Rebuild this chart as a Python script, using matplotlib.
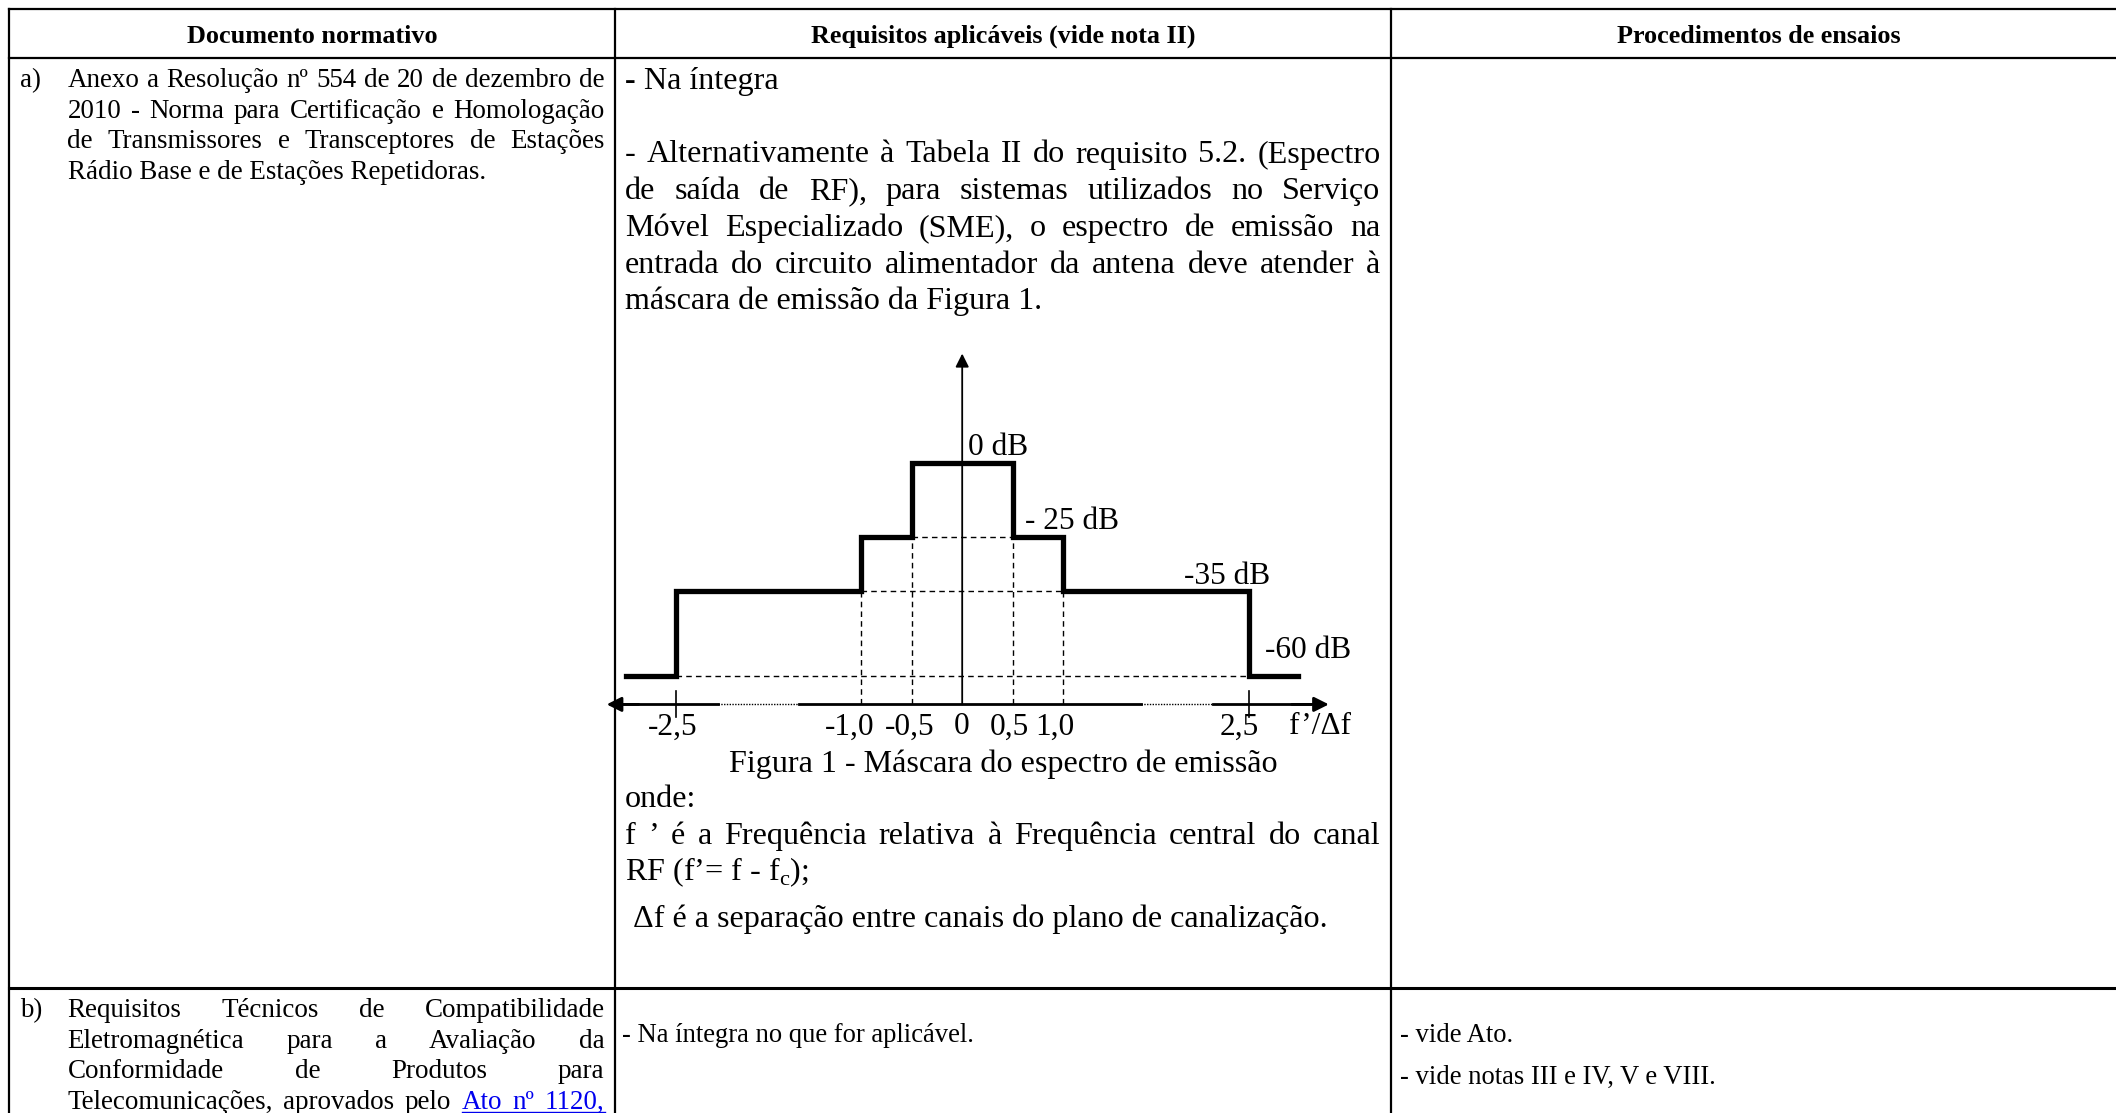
import numpy as np
import matplotlib
matplotlib.use("Agg")
import matplotlib.pyplot as plt

SERIF = ["Liberation Serif", "DejaVu Serif"]
plt.rcParams["font.family"] = SERIF
plt.rcParams["mathtext.fontset"] = "custom"
plt.rcParams["mathtext.rm"] = "Liberation Serif"

W, H = 2116, 1113

# ---- table content ----
headers = ["Documento normativo", "Requisitos aplicáveis (vide nota II)", "Procedimentos de ensaios"]
doc_a = ["Anexo a Resolução nº 554 de 20 de dezembro de",
         "2010 - Norma para Certificação e Homologação",
         "de Transmissores e Transceptores de Estações",
         "Rádio Base e de Estações Repetidoras."]
req_a_first = "Na íntegra"
req_a = ["- Alternativamente à Tabela II do requisito 5.2. (Espectro",
         "de saída de RF), para sistemas utilizados no Serviço",
         "Móvel Especializado (SME), o espectro de emissão na",
         "entrada do circuito alimentador da antena deve atender à",
         "máscara de emissão da Figura 1."]
caption = "Figura 1 - Máscara do espectro de emissão"
where_lines = ["onde:",
               "f ’ é a Frequência relativa à Frequência central do canal",
               r"RF (f’= f - f$_\mathregular{c}$);",
               "Δf é a separação entre canais do plano de canalização."]
doc_b = ["Requisitos Técnicos de Compatibilidade",
         "Eletromagnética para a Avaliação da",
         "Conformidade de Produtos para",
         "Telecomunicações, aprovados pelo Ato nº 1120,"]
req_b = "- Na íntegra no que for aplicável."
proc_b = ["- vide Ato.", "- vide notas III e IV, V e VIII."]

# ---- emission mask (Figura 1) ----
mask_f = [-2.9, -2.5, -1.0, -0.5, 0.5, 1.0, 2.5, 2.9]
mask_db = [-60, -35, -25, 0, -25, -35, -60, -60]
level_db = [0, -25, -35, -60]
level_labels = ["0 dB", "- 25 dB", "-35 dB", "-60 dB"]
tick_values = [-2.5, -1.0, -0.5, 0, 0.5, 1.0, 2.5]
tick_labels = ["-2,5", "-1,0", "-0,5", "0", "0,5", "1,0", "2,5"]
x_label = "f’/Δf"

fig = plt.figure(figsize=(W / 100, H / 100), dpi=100)
doc = fig.add_axes([0, 0, 1, 1])
doc.set_xlim(0, W)
doc.set_ylim(H, 0)
doc.axis("off")
renderer = fig.canvas.get_renderer()


def text_width(s, size, weight="normal"):
    t = doc.text(0, 0, s, fontsize=size, fontweight=weight)
    w = t.get_window_extent(renderer).width
    t.remove()
    return w


def fit(s, target, weight="normal"):
    return 10 * target / text_width(s, 10, weight)


def put_line(line, x0, y, size, x1=None, weight="normal", color="black"):
    words = line.split()
    if x1 is None or len(words) < 2:
        doc.text(x0, y, line, fontsize=size, fontweight=weight, color=color,
                 ha="left", va="baseline")
        return []
    widths = [text_width(w, size, weight) for w in words]
    gap = (x1 - x0 - sum(widths)) / (len(words) - 1)
    out = []
    x = x0
    for w, wd in zip(words, widths):
        t = doc.text(x, y, w, fontsize=size, fontweight=weight, color=color,
                     ha="left", va="baseline")
        out.append((t, x, wd))
        x += wd + gap
    return out


# font sizes, calibrated on widths in the reference
fs_head = fit("Documento normativo", 250, "bold")
fs_col1 = fit("Rádio Base e de Estações Repetidoras.", 418)
fs_big = fit("máscara de emissão da Figura 1.", 418)
fs_small = fit(req_b, 354)
fs_fig = fit("-60 dB", 86)

# ---- table grid ----
x_cols = [9, 615, 1391, 2126]
y_rows = [9, 58, 988]
for x in x_cols:
    doc.plot([x, x], [y_rows[0], H + 5], color="black", lw=1.6, solid_capstyle="projecting")
for y, lw in zip(y_rows, [1.6, 1.6, 2.2]):
    doc.plot([x_cols[0], x_cols[-1]], [y, y], color="black", lw=lw, solid_capstyle="projecting")

for h, x0, x1 in zip(headers, x_cols[:-1], x_cols[1:]):
    doc.text((x0 + x1) / 2, 43, h, fontsize=fs_head, fontweight="bold", ha="center", va="baseline")

# row a
doc.text(20, 87, "a)", fontsize=fs_col1, va="baseline")
for i, line in enumerate(doc_a):
    last = i == len(doc_a) - 1
    put_line(line, 67.5, 87 + i * 30.6, fs_col1, None if last else 604.5)

doc.text(625, 89, "-", fontsize=fs_big, fontweight="bold", va="baseline")
doc.text(625 + text_width("- ", fs_big), 89, req_a_first, fontsize=fs_big, va="baseline")
for i, line in enumerate(req_a):
    last = i == len(req_a) - 1
    put_line(line, 625, 162.5 + i * 36.7, fs_big, None if last else 1380.5)

doc.text(1003, 772, caption, fontsize=fs_big, ha="center", va="baseline")
put_line(where_lines[0], 625, 807, fs_big)
put_line(where_lines[1], 625, 844, fs_big, 1380.5)
put_line(where_lines[2], 625, 880, fs_big)
put_line(where_lines[3], 633, 927, fs_big)

# row b
doc.text(20, 1017, "b)", fontsize=fs_col1, va="baseline")
for i, line in enumerate(doc_b):
    words = put_line(line, 67.5, 1017 + i * 30.6, fs_col1, 604.5)
    if i == len(doc_b) - 1:
        link = words[3:]
        for t, _, _ in link:
            t.set_color("#0000ee")
        doc.plot([link[0][1], link[-1][1] + link[-1][2]], [1017 + i * 30.6 + 3] * 2,
                 color="#0000ee", lw=1.0)
doc.text(622, 1042, req_b, fontsize=fs_small, va="baseline")
for i, line in enumerate(proc_b):
    doc.text(1399.5, 1042 + i * 42, line, fontsize=fs_small, va="baseline")


# ---- Figura 1: schematic scales (breaks on both axes) ----
def fx(x):
    a = np.abs(x)
    return np.sign(x) * np.where(a <= 1, a, 1 + (a - 1) * 1.22)


def fx_inv(u):
    b = np.abs(u)
    return np.sign(u) * np.where(b <= 1, b, 1 + (b - 1) / 1.22)


DB_K = [-100, -60, -35, -25, 0, 60]
DB_U = [-79.8, 21, 84, 124, 179, 311]


def gy(y):
    return np.interp(y, DB_K, DB_U)


def gy_inv(u):
    return np.interp(u, DB_U, DB_K)


AXIS_DB = -68.33
px_u = 101.2
half_w = fx(3.3) * px_u
top_px = 704.4 - gy(45) * 1.3495
bot_px = 704.4 - gy(-75) * 1.3495
ax = fig.add_axes([(962.2 - half_w) / W, 1 - bot_px / H, 2 * half_w / W, (bot_px - top_px) / H])
ax.set_xscale("function", functions=(fx, fx_inv))
ax.set_yscale("function", functions=(gy, gy_inv))
ax.set_xlim(-3.3, 3.3)
ax.set_ylim(-75, 45)
ax.axis("off")

# dashed guides
dash = dict(color="black", lw=1.0, ls=(0, (4, 3)))
for i, x in enumerate(mask_f):
    if 0 < x < max(mask_f):
        lvl = mask_db[i]
        ax.plot([-x, x], [lvl, lvl], **dash)
        if lvl > min(mask_db):
            ax.plot([x, x], [AXIS_DB, lvl], **dash)
            ax.plot([-x, -x], [AXIS_DB, lvl], **dash)

ax.step(mask_f, mask_db, where="post", color="black", lw=3.8, solid_joinstyle="miter")

# axes with arrows
ax.annotate("", xy=(0, 36.8), xytext=(0, AXIS_DB),
            arrowprops=dict(arrowstyle="-|>", color="black", lw=1.3, mutation_scale=20,
                            shrinkA=0, shrinkB=0))
for a, b in [(-2.95, -2.16), (-1.50, 1.63), (2.21, 3.0)]:
    ax.plot([a, b], [AXIS_DB, AXIS_DB], color="black", lw=2.0)
for a, b in [(-2.16, -1.50), (1.63, 2.21)]:
    ax.plot([a, b], [AXIS_DB, AXIS_DB], color="black", lw=1.0, ls=(0, (1, 1)))
for a, b in [(-2.8, -3.06), (2.85, 3.15)]:
    ax.annotate("", xy=(b, AXIS_DB), xytext=(a, AXIS_DB),
                arrowprops=dict(arrowstyle="-|>", color="black", lw=2.0, mutation_scale=22,
                                shrinkA=0, shrinkB=0))
for x in (min(tick_values), max(tick_values)):
    ax.plot([x, x], [-72, -64.5], color="black", lw=1.2)

# tick labels sit slightly left of their ticks in the original
tick_dx = {-2.5: -3, -1.0: -11, -0.5: -2, 0: -1, 0.5: -3, 1.0: -9, 2.5: -9}
for v, lab in zip(tick_values, tick_labels):
    ax.annotate(lab, (v, AXIS_DB), xytext=(tick_dx[v], -30), textcoords="offset pixels",
                ha="center", va="baseline", fontsize=fs_fig)
ax.annotate(x_label, (3.08, AXIS_DB), xytext=(0, -30), textcoords="offset pixels",
            ha="center", va="baseline", fontsize=fs_fig)

label_place = {0: (0.0, "left", 6, 8), -25: (0.5, "left", 12, 8),
               -35: (2.5, "right", 22, 7), -60: (2.5, "left", 16, 18)}
for lvl, lab in zip(level_db, level_labels):
    x, ha, dx, dy = label_place[lvl]
    ax.annotate(lab, (x, lvl), xytext=(dx, dy), textcoords="offset pixels",
                ha=ha, va="baseline", fontsize=fs_fig)

fig.savefig("out.png", dpi=100)
